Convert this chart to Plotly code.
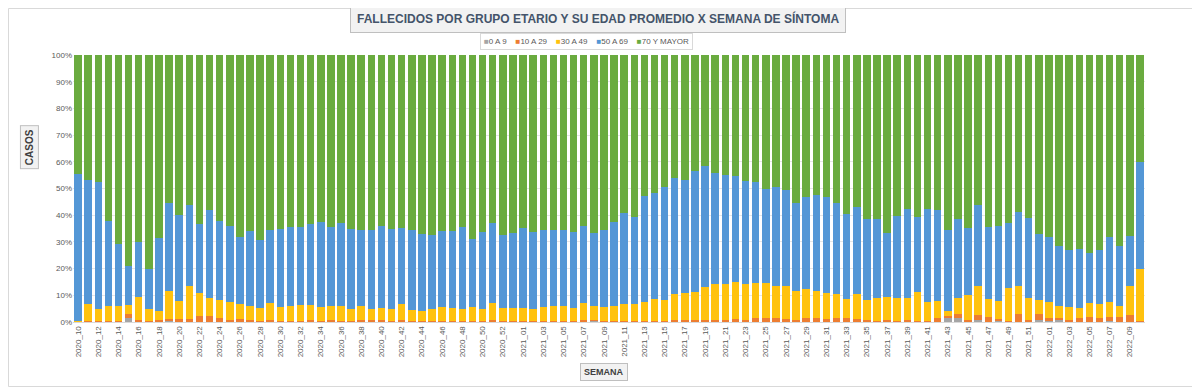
import plotly.graph_objects as go

weeks = (["2020_%02d" % w for w in range(10, 54)]
         + ["2021_%02d" % w for w in range(1, 53)]
         + ["2022_%02d" % w for w in range(1, 11)])

tick_labels = weeks[::2]

g0_9 = [0, 0, 0, 0, 0, 1.6, 0, 0, 0.2, 0.5, 0, 0, 0, 0, 0, 0, 0, 0, 0, 0.2,
        0, 0, 0, 0, 0, 0, 0, 0, 0, 0, 0, 0, 0, 0, 0, 0, 0, 0, 0, 0,
        0, 0, 0, 0, 0, 0, 0, 0, 0, 0, 0, 0.5, 0, 0, 0, 0, 0, 0, 0, 0,
        0, 0, 0, 0, 0, 0, 0, 0, 0, 0, 0, 0, 0, 0, 0, 0, 0, 0, 0, 0,
        0, 0, 0, 0, 0, 0, 1.4, 1.5, 0, 0.7, 0, 0.5, 0, 0, 0, 0.6, 0.5, 0.6, 0, 0,
        0, 0, 0.5, 0, 0, 0]
g10_29 = [0, 0.3, 0.3, 0.3, 0.3, 1.5, 0.8, 0.5, 0.6, 0.75, 1.0, 1.0, 2.1, 2.25, 1.4, 0.6, 1.3, 0.8, 0.5, 0.4,
          0.5, 0.5, 0.5, 0.6, 0.5, 0.6, 0.5, 0.5, 0.6, 0.6, 0.6, 0.5, 0.6, 0.3, 0.3, 0.3, 0.4, 0.4, 0.5, 0.4,
          0.5, 0.7, 0.4, 0.4, 0.4, 0.4, 0.4, 0.5, 0.5, 0.4, 0.9, 0.2, 0.4, 0.4, 0.5, 0.5, 0.5, 0.5, 0.5, 0.6,
          0.7, 0.7, 0.9, 0.8, 0.9, 1.0, 0.9, 1.5, 1.4, 1.5, 1.2, 0.8, 1.6, 1.6, 1.2, 1.5, 1.5, 1.2, 0.6, 0.5,
          0.9, 0.3, 0.9, 0.2, 0.2, 1.5, 0.85, 1.4, 0.9, 2.05, 1.9, 0.75, 0.4, 3.0, 0.6, 2.3, 1.1, 0.9, 0.8, 1.5,
          1.75, 1.4, 1.5, 2.0, 2.6, 0.3]
g30_49 = [0.3, 6.3, 4.4, 5.6, 5.6, 3.15, 8.45, 4.25, 3.3, 10.5, 6.9, 12.4, 8.65, 6.75, 6.7, 6.8, 5.3, 5.3, 4.75, 6.4,
          5.0, 5.4, 5.75, 5.65, 5.25, 5.4, 5.5, 4.5, 5.3, 4.4, 4.65, 4.25, 6.0, 4.2, 3.7, 4.6, 5.1, 4.85, 4.25, 5.1,
          4.5, 6.55, 4.85, 4.85, 4.7, 4.6, 5.1, 5.5, 5.4, 4.7, 6.35, 5.2, 5.2, 5.5, 6.4, 6.1, 7.0, 8.1, 7.9, 9.9,
          10.05, 10.55, 12.1, 13.45, 13.35, 13.9, 13.35, 13.0, 13.1, 12.0, 12.3, 10.7, 10.65, 9.9, 9.8, 9.0, 7.0, 9.3, 7.65, 8.5,
          8.6, 8.7, 8.1, 11.05, 7.2, 6.4, 2.0, 6.1, 9.1, 10.75, 6.6, 6.65, 12.5, 10.5, 8.4, 5.35, 5.8, 4.4, 4.7, 3.6,
          5.35, 5.2, 5.6, 4.1, 10.8, 19.45]
g50_69 = [55.3, 46.5, 47.7, 32.0, 23.5, 14.65, 20.75, 15.0, 27.4, 32.75, 32.0, 30.35, 26.0, 33.0, 29.8, 28.5, 25.15, 27.9, 25.35, 27.5,
          29.25, 29.6, 29.25, 30.5, 31.65, 29.5, 31.0, 29.75, 28.6, 29.5, 30.85, 30.0, 28.65, 30.0, 29.0, 27.6, 28.5, 28.75, 30.75, 25.6,
          28.75, 29.75, 27.5, 28.0, 30.0, 28.6, 28.9, 28.6, 28.7, 28.65, 28.65, 27.6, 28.8, 31.6, 33.85, 32.9, 39.6, 39.65, 42.0, 43.4,
          42.25, 45.15, 45.5, 41.65, 40.65, 39.7, 38.5, 37.9, 35.4, 36.9, 35.9, 33.1, 34.5, 36.0, 35.75, 34.1, 32.0, 32.4, 30.35, 29.6,
          23.9, 30.6, 33.4, 28.0, 34.85, 34.0, 30.25, 29.6, 25.25, 30.25, 26.9, 28.2, 24.2, 27.75, 30.0, 24.75, 24.6, 22.7, 21.4, 22.15,
          18.65, 20.5, 24.3, 22.3, 18.85, 40.25]
g70_plus = [44.4, 46.9, 47.6, 62.1, 70.6, 79.1, 70.0, 80.25, 68.5, 55.5, 60.1, 56.25, 63.25, 58.0, 62.1, 64.1, 68.25, 66.0, 69.4, 65.5,
            65.25, 64.5, 64.5, 63.25, 62.6, 64.5, 63.0, 65.25, 65.5, 65.5, 63.9, 65.25, 64.75, 65.5, 67.0, 67.5, 66.0, 66.0, 64.5, 68.9,
            66.25, 63.0, 67.25, 66.75, 64.9, 66.4, 65.6, 65.4, 65.4, 66.25, 64.1, 66.5, 65.6, 62.5, 59.25, 60.5, 52.9, 51.75, 49.6, 46.1,
            47.0, 43.6, 41.5, 44.1, 45.1, 45.4, 47.25, 47.6, 50.1, 49.6, 50.6, 55.4, 53.25, 52.5, 53.25, 55.4, 59.5, 57.1, 61.4, 61.4,
            66.6, 60.4, 57.6, 60.75, 57.75, 58.1, 65.5, 61.4, 64.75, 56.25, 64.6, 63.9, 62.9, 58.75, 61.0, 67.0, 68.0, 71.4, 73.1, 72.75,
            74.25, 72.9, 68.1, 71.6, 67.75, 40.0]

series = [
    ("0 A 9", g0_9, "#A5A5A5"),
    ("10 A 29", g10_29, "#ED7D31"),
    ("30 A 49", g30_49, "#FFC20E"),
    ("50 A 69", g50_69, "#5497D6"),
    ("70 Y MAYOR", g70_plus, "#6AAB3F"),
]

fig = go.Figure()
for name, vals, col in series:
    fig.add_trace(go.Bar(x=weeks, y=vals, name=name, marker=dict(color=col, line=dict(width=0))))

font_fam = "Liberation Sans, Arial, sans-serif"

legend_text = "&nbsp;&nbsp;&nbsp;&nbsp;".join(
    "<span style='color:%s'>■</span>%s" % (col, name) for name, _, col in series)

# page body has an 8px margin: figure is 1192x380, plot area 1072x267
PW, PH = 1072, 267
fig.update_layout(
    barmode="stack",
    barnorm="percent",
    bargap=0.26,
    width=1192, height=380,
    margin=dict(l=65, r=55, t=47, b=66, autoexpand=False),
    paper_bgcolor="white",
    plot_bgcolor="white",
    font=dict(family=font_fam, color="#595959", size=8),
    showlegend=False,
    xaxis=dict(type="category", tickmode="array", tickvals=tick_labels, ticktext=tick_labels,
               tickangle=-90, tickfont=dict(size=8, color="#595959"), showgrid=False,
               showline=True, linecolor="#D9D9D9", linewidth=1, ticks="", automargin=False),
    yaxis=dict(range=[0, 100], dtick=10, ticksuffix="%", showgrid=True, gridcolor="#E6E6E6",
               gridwidth=1, zeroline=False, tickfont=dict(size=8, color="#595959"), ticks="",
               automargin=False),
    shapes=[dict(type="rect", xref="paper", yref="paper",
                 x0=-64.5 / PW, x1=(1187 - 65) / PW, y0=(314 - 378.5) / PH, y1=(314 - 0.5) / PH,
                 line=dict(color="#D9D9D9", width=1), fillcolor="rgba(0,0,0,0)", layer="below")],
    annotations=[
        dict(text="<b>FALLECIDOS POR GRUPO ETARIO Y SU EDAD PROMEDIO X SEMANA DE SÍNTOMA</b>",
             xref="paper", yref="paper", x=0.49, y=1.135, xanchor="center", yanchor="middle",
             showarrow=False, font=dict(size=12, color="#44546A", family=font_fam),
             bgcolor="#F2F2F2", bordercolor="#BFBFBF", borderwidth=1, borderpad=6),
        dict(text=legend_text, xref="paper", yref="paper", x=0.479, y=1.049,
             xanchor="center", yanchor="middle", showarrow=False,
             font=dict(size=8, color="#595959", family=font_fam),
             bgcolor="white", bordercolor="#D9D9D9", borderwidth=1, borderpad=3),
        dict(text="<b>CASOS</b>", xref="paper", yref="paper", x=-0.041, y=0.655,
             xanchor="center", yanchor="middle", textangle=-90, showarrow=False,
             font=dict(size=10, color="#404040", family=font_fam),
             bgcolor="#F2F2F2", bordercolor="#BFBFBF", borderwidth=1, borderpad=3),
        dict(text="<b>SEMANA</b>", xref="paper", yref="paper", x=0.495, y=-0.187,
             xanchor="center", yanchor="middle", showarrow=False,
             font=dict(size=9, color="#404040", family=font_fam),
             bgcolor="#F2F2F2", bordercolor="#BFBFBF", borderwidth=1, borderpad=3),
    ],
)

fig.write_html("out.html")
